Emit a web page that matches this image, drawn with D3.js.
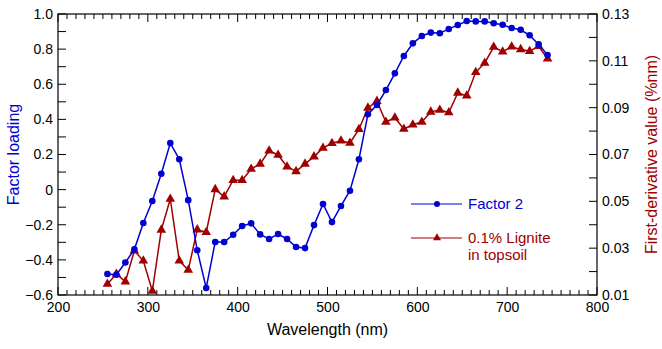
<!DOCTYPE html>
<html>
<head>
<meta charset="utf-8">
<script src="https://cdn.jsdelivr.net/npm/d3@7"></script>
<style>
  body { margin: 0; background: #fff; }
  svg { display: block; font-family: "Liberation Sans", Arial, sans-serif; }
</style>
</head>
<body>
<div id="chart"></div>
<script>
// Data
var wavelengths = [255, 265, 275, 285, 295, 305, 315, 325, 335, 345,
                   355, 365, 375, 385, 395, 405, 415, 425, 435, 445,
                   455, 465, 475, 485, 495, 505, 515, 525, 535, 545,
                   555, 565, 575, 585, 595, 605, 615, 625, 635, 645,
                   655, 665, 675, 685, 695, 705, 715, 725, 735, 745];

var factor2 = [-0.48, -0.485, -0.415, -0.34, -0.19, -0.065, 0.09, 0.265, 0.173, -0.06,
               -0.345, -0.56, -0.298, -0.298, -0.257, -0.207, -0.192, -0.255, -0.281, -0.253,
               -0.281, -0.327, -0.333, -0.202, -0.082, -0.185, -0.093, -0.006, 0.173, 0.429,
               0.482, 0.567, 0.662, 0.761, 0.833, 0.875, 0.894, 0.89, 0.915, 0.937,
               0.96, 0.958, 0.958, 0.947, 0.939, 0.92, 0.91, 0.879, 0.827, 0.766];

var lignite = [0.0147, 0.019, 0.0157, 0.0289, 0.0246, 0.0117, 0.0378, 0.051, 0.0246, 0.0207,
               0.0379, 0.0368, 0.0551, 0.052, 0.059, 0.059, 0.0638, 0.066, 0.0716, 0.0698,
               0.0648, 0.0628, 0.066, 0.0691, 0.0728, 0.0748, 0.0759, 0.0749, 0.0808, 0.0899,
               0.0928, 0.0839, 0.0857, 0.0809, 0.0827, 0.0839, 0.0882, 0.089, 0.0879, 0.0963,
               0.0951, 0.1051, 0.1091, 0.1159, 0.1139, 0.116, 0.1149, 0.1141, 0.1162, 0.1109];

var xTicks = [200, 300, 400, 500, 600, 700, 800];
var yLeftTicks = [-0.6, -0.4, -0.2, 0, 0.2, 0.4, 0.6, 0.8, 1.0];
var yRightTicks = [0.01, 0.03, 0.05, 0.07, 0.09, 0.11, 0.13];

var blue = "#0000d0";
var red = "#a00000";

// Chart size
var W = 662, H = 349;
var margin = { top: 14, right: 65, bottom: 54, left: 58 },
  width = W - margin.left - margin.right,
  height = H - margin.top - margin.bottom;

var x = d3.scaleLinear().domain([200, 800]).range([0, width]);
var yL = d3.scaleLinear().domain([-0.6, 1.0]).range([height, 0]);
var yR = d3.scaleLinear().domain([0.01, 0.13]).range([height, 0]);

var svg = d3.select("#chart")
  .append("svg")
  .attr("width", W)
  .attr("height", H)
  .append("g")
  .attr("transform", "translate(" + margin.left + "," + margin.top + ")");

// Frame
svg.append("rect")
  .attr("width", width)
  .attr("height", height)
  .attr("fill", "none")
  .attr("stroke", "#000")
  .attr("stroke-width", 1.2);

// Minor + major tick marks (inward)
var xMinor = d3.range(200, 801, 10);
svg.selectAll(".xt-bot")
  .data(xMinor)
  .enter().append("line")
  .attr("x1", function (d) { return x(d); })
  .attr("x2", function (d) { return x(d); })
  .attr("y1", height)
  .attr("y2", function (d) { return height - (d % 100 === 0 ? 8 : 5); })
  .attr("stroke", "#000");
svg.selectAll(".xt-top")
  .data(xMinor)
  .enter().append("line")
  .attr("x1", function (d) { return x(d); })
  .attr("x2", function (d) { return x(d); })
  .attr("y1", 0)
  .attr("y2", function (d) { return d % 100 === 0 ? 8 : 5; })
  .attr("stroke", "#000");

var yLMinor = d3.range(-6, 11).map(function (d) { return d / 10; });
svg.selectAll(".ylt")
  .data(yLMinor)
  .enter().append("line")
  .attr("x1", 0)
  .attr("x2", 8)
  .attr("y1", function (d) { return yL(d); })
  .attr("y2", function (d) { return yL(d); })
  .attr("stroke", "#000");

var yRMinor = d3.range(1, 14).map(function (d) { return d / 100; });
svg.selectAll(".yrt")
  .data(yRMinor)
  .enter().append("line")
  .attr("x1", width)
  .attr("x2", width - 8)
  .attr("y1", function (d) { return yR(d); })
  .attr("y2", function (d) { return yR(d); })
  .attr("stroke", "#000");

// Axes (labels only, ticks drawn above)
var xAxis = svg.append("g")
  .attr("transform", "translate(0," + height + ")")
  .call(d3.axisBottom(x).tickValues(xTicks).tickSize(0).tickPadding(7).tickFormat(d3.format("d")));
var yAxisL = svg.append("g")
  .call(d3.axisLeft(yL).tickValues(yLeftTicks).tickSize(0).tickPadding(5)
    .tickFormat(function (d) { return d === 0 ? "0" : d3.format(".1f")(d); }));
var yAxisR = svg.append("g")
  .attr("transform", "translate(" + width + ",0)")
  .call(d3.axisRight(yR).tickValues(yRightTicks).tickSize(0).tickPadding(5).tickFormat(d3.format(".2f")));

[xAxis, yAxisL, yAxisR].forEach(function (a) {
  a.select(".domain").remove();
  a.selectAll("text").style("font-size", "14px").style("font-family", "Liberation Sans, Arial, sans-serif").attr("fill", "#000");
});

// Axis titles
svg.append("text")
  .attr("x", width / 2)
  .attr("y", height + 40)
  .attr("text-anchor", "middle")
  .style("font-size", "16px")
  .text("Wavelength (nm)");

svg.append("text")
  .attr("transform", "translate(" + (-39) + "," + (height / 2) + ") rotate(-90)")
  .attr("text-anchor", "middle")
  .style("font-size", "16px")
  .attr("fill", blue)
  .text("Factor loading");

svg.append("text")
  .attr("transform", "translate(" + (width + 60) + "," + (height / 2) + ") rotate(-90)")
  .attr("text-anchor", "middle")
  .style("font-size", "16px")
  .attr("fill", red)
  .text("First-derivative value (%nm)");

// Series
var f2 = wavelengths.map(function (w, i) { return { w: w, v: factor2[i] }; });
var lg = wavelengths.map(function (w, i) { return { w: w, v: lignite[i] }; });

svg.append("path")
  .datum(lg)
  .attr("fill", "none")
  .attr("stroke", red)
  .attr("stroke-width", 1.5)
  .attr("d", d3.line().x(function (d) { return x(d.w); }).y(function (d) { return yR(d.v); }));

svg.selectAll(".tri")
  .data(lg)
  .enter().append("path")
  .attr("d", d3.symbol().type(d3.symbolTriangle).size(40))
  .attr("transform", function (d) { return "translate(" + x(d.w) + "," + yR(d.v) + ")"; })
  .attr("fill", red);

svg.append("path")
  .datum(f2)
  .attr("fill", "none")
  .attr("stroke", blue)
  .attr("stroke-width", 1.5)
  .attr("d", d3.line().x(function (d) { return x(d.w); }).y(function (d) { return yL(d.v); }));

svg.selectAll(".dot")
  .data(f2)
  .enter().append("circle")
  .attr("cx", function (d) { return x(d.w); })
  .attr("cy", function (d) { return yL(d.v); })
  .attr("r", 3.3)
  .attr("fill", blue);

// Legend
var lgx = 411 - margin.left, lgy1 = 204 - margin.top, lgy2 = 238 - margin.top;
var legend = svg.append("g");
legend.append("line").attr("x1", lgx).attr("x2", lgx + 51).attr("y1", lgy1).attr("y2", lgy1).attr("stroke", blue);
legend.append("circle").attr("cx", lgx + 26).attr("cy", lgy1).attr("r", 3).attr("fill", blue);
legend.append("text").attr("x", lgx + 57).attr("y", lgy1 + 5).style("font-size", "15px").attr("fill", blue).text("Factor 2");

legend.append("line").attr("x1", lgx).attr("x2", lgx + 51).attr("y1", lgy2).attr("y2", lgy2).attr("stroke", red);
legend.append("path").attr("d", d3.symbol().type(d3.symbolTriangle).size(28))
  .attr("transform", "translate(" + (lgx + 26) + "," + lgy2 + ")").attr("fill", red);
legend.append("text").attr("x", lgx + 57).attr("y", lgy2 + 5).style("font-size", "15px").attr("fill", red).text("0.1% Lignite");
legend.append("text").attr("x", lgx + 57).attr("y", lgy2 + 22).style("font-size", "15px").attr("fill", red).text("in topsoil");
</script>
</body>
</html>
